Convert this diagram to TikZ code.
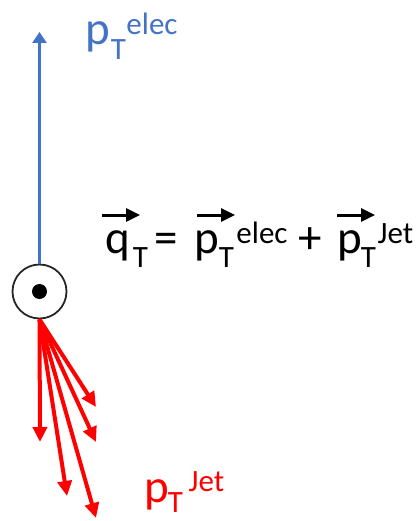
\documentclass[tikz,border=0pt]{standalone}
\usepackage{fontspec}
\setmainfont{Carlito}
\usetikzlibrary{arrows.meta}
\definecolor{elecblue}{HTML}{4472C4}
\definecolor{jetred}{HTML}{FF0000}
\tikzset{
  elecarrow/.style={draw=elecblue, line width=3.8pt, -{Triangle[length=11pt,width=14pt]}},
  jetarrow/.style={draw=jetred, line width=4pt, -{Triangle[length=15pt,width=14pt]}},
  vecarrow/.style={draw=black, line width=3pt, -{Triangle[length=14pt,width=13pt]}},
  bigtxt/.style={inner sep=0pt, anchor=base, font=\fontsize{47}{50}\selectfont},
  smalltxt/.style={inner sep=0pt, anchor=base, font=\fontsize{31}{34}\selectfont},
}
\begin{document}
\begin{tikzpicture}[x=1pt,y=-1pt]
\useasboundingbox (0,0) rectangle (418,521);
% observer symbol
\node[circle, draw=black!85, line width=1.8pt, minimum size=54pt, inner sep=0pt] (obs) at (39.5,291.5) {};
\fill (obs.center) circle (7.5pt);
% electron
\coordinate (tipE) at (39.5,32);
\draw[elecarrow] (obs.north) -- (tipE);
% jets
\coordinate (j1) at (40,442);
\coordinate (j2) at (67,496);
\coordinate (j3) at (96,518);
\coordinate (j4) at (96,442);
\coordinate (j5) at (96,407);
\foreach \t in {j1,j2,j3,j4,j5} \draw[jetarrow] (obs.south) -- (\t);
% labels
\begin{scope}[text=elecblue]
\node[bigtxt] (pe) at (98,45) {p};
\node[smalltxt] (pet) at (118.5,60) {T};
\node[smalltxt] (pee) at (152,35) {elec};
\end{scope}
\begin{scope}[text=jetred]
\node[bigtxt] (pj) at (157,502) {p};
\node[smalltxt] (pjt) at (175.5,512) {T};
\node[smalltxt] (pjj) at (206.5,491) {Jet};
\end{scope}
% formula
\node[bigtxt] (fq) at (117.5,253) {q};
\node[smalltxt] (fqt) at (140.5,267) {T};
\node[bigtxt] (feq) at (166.5,253) {=};
\node[bigtxt] (fp1) at (207,253) {p};
\node[smalltxt] (fp1t) at (226.5,267) {T};
\node[smalltxt] (fp1e) at (262,243) {elec};
\node[bigtxt] (fplus) at (310,253) {+};
\node[bigtxt] (fp2) at (350,253) {p};
\node[smalltxt] (fp2t) at (368.5,267) {T};
\node[smalltxt] (fp2j) at (395.5,243) {Jet};
\draw[vecarrow] (102,215) -- (140,215);
\draw[vecarrow] (197,215) -- (235,215);
\draw[vecarrow] (337,215) -- (375,215);
\end{tikzpicture}
\end{document}
